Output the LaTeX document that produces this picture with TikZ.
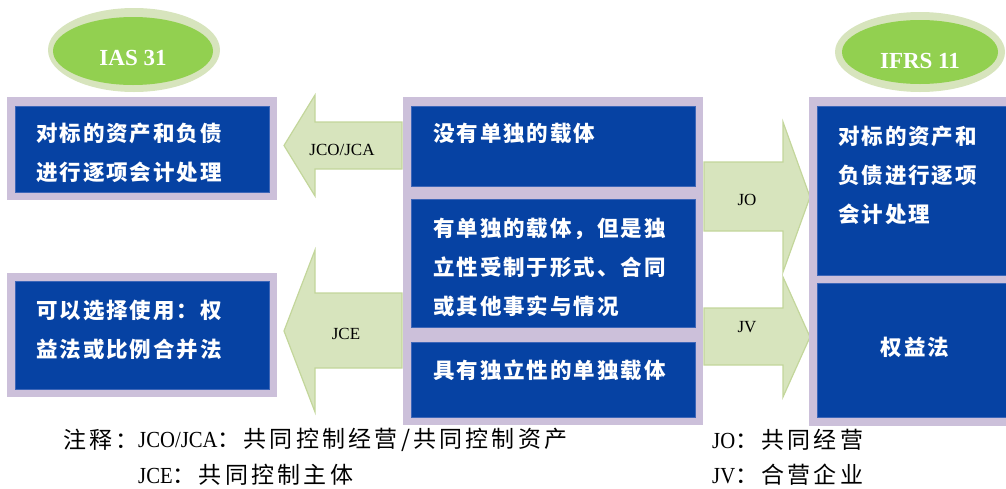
\documentclass[tikz,border=0pt]{standalone}
\usepackage{fontspec}
\setmainfont{Liberation Serif}
\newfontfamily\narrowlat[FakeStretch=0.9]{Liberation Serif}
\newfontfamily\cjkb[LetterSpace=9]{Noto Sans CJK SC}
\newfontfamily\cjkn[LetterSpace=14]{Noto Sans CJK SC}
\definecolor{framec}{HTML}{CCC0DA}
\definecolor{boxblue}{HTML}{0642A3}
\definecolor{boxedge}{HTML}{3D66B8}
\definecolor{arrowfill}{HTML}{D7E4BD}
\definecolor{arrowedge}{HTML}{C3D69B}
\definecolor{ellgreen}{HTML}{92D050}
\definecolor{ellring}{HTML}{D7E4BD}
\begin{document}
\begin{tikzpicture}[x=1pt,y=-1pt,
  frame/.style={fill=framec},
  inner/.style={fill=boxblue, draw=boxedge, line width=0.6pt},
  barrow/.style={fill=arrowfill, draw=arrowedge, line width=1.2pt, line join=miter},
  boxtxt/.style={anchor=west, inner sep=0pt, text=white, align=left,
    font=\cjkb\bfseries\fontsize{21.5}{39}\selectfont},
  albl/.style={inner sep=0pt, font=\fontsize{17}{20}\selectfont},
  elltxt/.style={inner sep=0pt, text=white, font=\bfseries\fontsize{23}{26}\selectfont},
  note/.style={anchor=west, inner sep=0pt, font=\narrowlat\fontsize{23}{25}\selectfont}]
\useasboundingbox (0,0) rectangle (1006,488);

% ellipses
\fill[ellring] (134,50) ellipse [x radius=86, y radius=42];
\fill[ellgreen] (133,51) ellipse [x radius=80, y radius=34];
\node[elltxt] (ias) at (133,58) {IAS 31};
\fill[ellring] (920,52) ellipse [x radius=85, y radius=40];
\fill[ellgreen] (920,52) ellipse [x radius=78, y radius=32];
\node[elltxt] (ifrs) at (920,61) {IFRS 11};

% block arrows
\draw[barrow] (402,122) -- (315,122) -- (315,95) -- (284,145.5) -- (315,196) -- (315,169) -- (402,169) -- cycle;
\node[albl] (jco) at (342,150) {JCO/JCA};
\draw[barrow] (402,293) -- (315,293) -- (315,250) -- (284,331) -- (315,412) -- (315,368) -- (402,368) -- cycle;
\node[albl] (jce) at (346,334) {JCE};
\draw[barrow] (704,162) -- (783,162) -- (783,122) -- (810,197) -- (783,272) -- (783,231) -- (704,231) -- cycle;
\node[albl] (jo) at (747,200) {JO};
\draw[barrow] (704,308) -- (783,308) -- (783,277) -- (810,337) -- (783,397) -- (783,365) -- (704,365) -- cycle;
\node[albl] (jv) at (747,327) {JV};

% left boxes
\fill[frame] (7,97) rectangle (277,200);
\filldraw[inner] (15,106) rectangle (269,192);
\node[boxtxt] (l1) at (36,152.5) {对标的资产和负债\\进行逐项会计处理};
\fill[frame] (7,273) rectangle (277,397);
\filldraw[inner] (15,281) rectangle (269,389);
\node[boxtxt] (l2) at (36,329.5) {可以选择使用：权\\益法或比例合并法};

% middle boxes
\fill[frame] (403,97) rectangle (703,425);
\filldraw[inner] (411,106) rectangle (695,186);
\node[boxtxt] (m1) at (433,133) {没有单独的载体};
\filldraw[inner] (411,199) rectangle (695,327);
\node[boxtxt] (m2) at (433,267) {有单独的载体，但是独\\立性受制于形式、合同\\或其他事实与情况};
\filldraw[inner] (411,342) rectangle (695,417);
\node[boxtxt] (m3) at (433,370) {具有独立性的单独载体};

% right boxes
\fill[frame] (809,97) rectangle (1012,426);
\filldraw[inner] (817,106) rectangle (1010,275);
\node[boxtxt] (r1) at (838,175.5) {对标的资产和\\负债进行逐项\\会计处理};
\filldraw[inner] (817,283) rectangle (1010,417);
\node[boxtxt, anchor=center] (r2) at (915,347) {权益法};

% notes
\node[note] (n0) at (63,440) {\cjkn 注释：};
\node[note] (n1) at (138,440) {JCO/JCA{\cjkn ：共同控制经营/共同控制资产}};
\node[note] (n2) at (138,475) {JCE{\cjkn ：共同控制主体}};
\node[note] (n3) at (712,440) {JO{\cjkn ：共同经营}};
\node[note] (n4) at (712,475) {JV{\cjkn ：合营企业}};
\end{tikzpicture}
\end{document}
